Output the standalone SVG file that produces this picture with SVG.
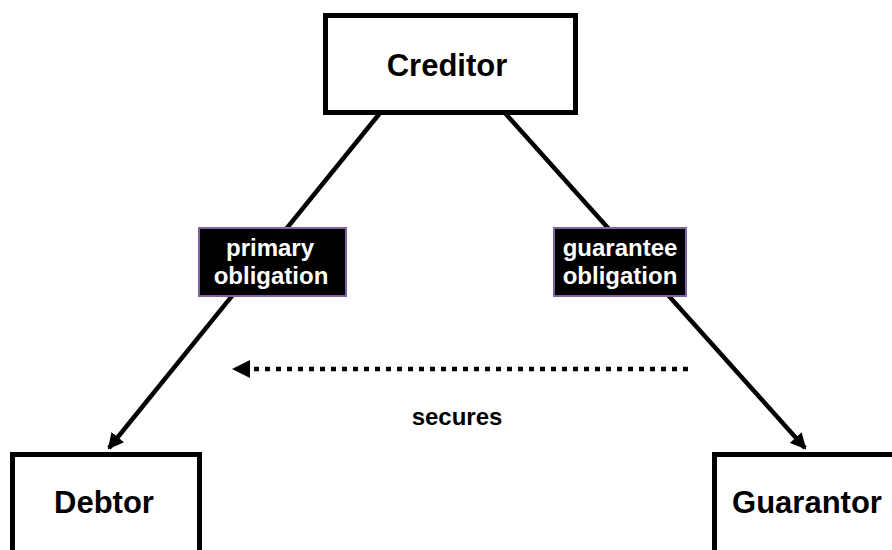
<svg xmlns="http://www.w3.org/2000/svg" width="892" height="550" viewBox="0 0 892 550">
<style>
.box{fill:#fff;stroke:#000;stroke-width:5}
.lbl{fill:#000;stroke:#8064A2;stroke-width:2}
.nt{font-family:"Liberation Sans",Arial,sans-serif;font-weight:bold;font-size:31px;fill:#000;text-anchor:middle}
.lt{font-family:"Liberation Sans",Arial,sans-serif;font-weight:bold;font-size:24px;fill:#fff;text-anchor:middle}
.st{font-family:"Liberation Sans",Arial,sans-serif;font-weight:bold;font-size:24px;fill:#000;text-anchor:middle}
.ln{stroke:#000;stroke-width:4.5;fill:none}
</style>
<defs>
<marker id="ah" markerWidth="16" markerHeight="16" viewBox="0 0 16 16" refX="14" refY="8" orient="auto" markerUnits="userSpaceOnUse">
<path d="M0,0 L16,8 L0,16 Z" fill="#000"/>
</marker>
</defs>
<rect width="892" height="550" fill="#fff"/>
<g id="connectors">
<line class="ln" x1="380" y1="113" x2="109" y2="448" marker-end="url(#ah)"/>
<line class="ln" x1="505" y1="113" x2="805" y2="448" marker-end="url(#ah)"/>
<line class="ln" x1="688" y1="369" x2="246" y2="369" stroke-width="5" stroke-dasharray="5 6"/>
<path d="M232,369 L250,360 L250,378 Z" fill="#000"/>
</g>
<g id="creditor">
<rect class="box" x="325.5" y="15.5" width="250" height="97"/>
<text class="nt" x="447" y="76">Creditor</text>
</g>
<g id="debtor">
<rect class="box" x="12.5" y="454.5" width="187" height="110"/>
<text class="nt" x="104" y="513">Debtor</text>
</g>
<g id="guarantor">
<rect class="box" x="714.5" y="454.5" width="200" height="110"/>
<text class="nt" x="807" y="513">Guarantor</text>
</g>
<g id="label-primary">
<rect class="lbl" x="199" y="228" width="147" height="68"/>
<text class="lt" x="270" y="256">primary</text>
<text class="lt" x="271" y="284">obligation</text>
</g>
<g id="label-guarantee">
<rect class="lbl" x="554" y="228" width="132" height="68"/>
<text class="lt" x="620" y="256">guarantee</text>
<text class="lt" x="620" y="284">obligation</text>
</g>
<g id="label-secures">
<text class="st" x="457" y="425">secures</text>
</g>
</svg>
